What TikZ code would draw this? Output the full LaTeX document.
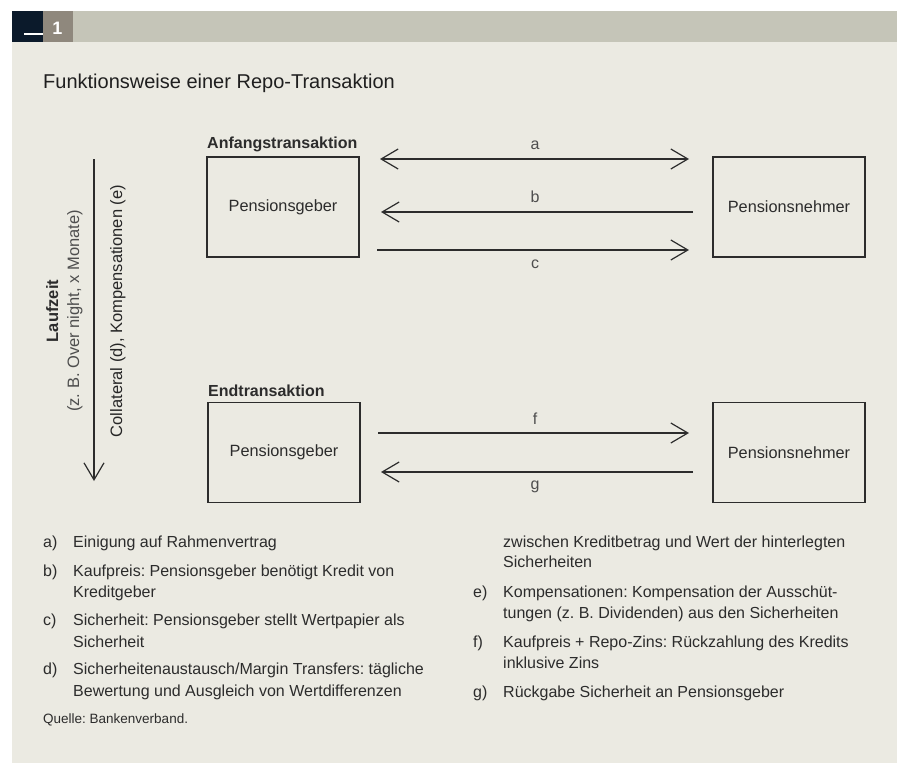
\documentclass[tikz,border=0pt]{standalone}
\usepackage{fontspec}
\setmainfont{Liberation Sans}
\usetikzlibrary{arrows.meta}
\definecolor{navy}{HTML}{0B1A2B}
\definecolor{hdrgrey}{HTML}{8F887D}
\definecolor{barcol}{HTML}{C5C5B8}
\definecolor{bgcol}{HTML}{EBEAE2}
\definecolor{ink}{HTML}{2C2C2C}
\definecolor{labink}{HTML}{4E4E4E}
\tikzset{barb/.tip={Straight Barb[length=17pt,width=20pt]}}
\frenchspacing
\begin{document}
\begin{tikzpicture}[x=1pt,y=-1pt,
  fn/.style={anchor=base west, inner sep=0pt, text=ink, font=\fontsize{16}{19}\selectfont},
  party/.style={draw=ink, line width=1.3pt, minimum width=152pt, minimum height=100pt,
    text=ink, font=\fontsize{16.3}{19}\selectfont, inner sep=0pt},
  phase/.style={anchor=base west, inner sep=0pt, text=ink, font=\fontsize{16}{19}\selectfont\bfseries},
  lab/.style={anchor=base, inner sep=0pt, text=labink, font=\fontsize{16}{19}\selectfont},
  arr/.style={draw=ink, line width=1.2pt},
  vtext/.style={anchor=base, rotate=90, inner sep=0pt, font=\fontsize{16.5}{19}\selectfont}]
\useasboundingbox (0,0) rectangle (897,763);
% background and header
\fill[bgcol] (12,42) rectangle (897,763);
\fill[barcol] (73,11) rectangle (897,42);
\fill[hdrgrey] (43,11) rectangle (73,42);
\fill[navy] (12,11) rectangle (43,42);
\fill[white] (24,32.5) rectangle (43,35);
\node[anchor=base, inner sep=0pt, text=white, font=\fontsize{18}{20}\selectfont\bfseries] (num) at (57.5,34) {1};
% title
\node[anchor=base west, inner sep=0pt, text=black!88, font=\fontsize{20}{24}\selectfont] (title) at (43,88) {Funktionsweise einer Repo-Transaktion};
% time axis
\coordinate (tTop) at (94,159);
\coordinate (tBot) at (94,481);
\draw[arr,-barb] (tTop) -- (tBot);
\node[vtext, text=ink, font=\fontsize{16.5}{19}\selectfont\bfseries] (lz) at (58,311) {Laufzeit};
\node[vtext, text=labink] (lz2) at (79,311) {(z. B. Over night, x Monate)};
\node[vtext, text=black!85] (coll) at (122,311) {Collateral (d), Kompensationen (e)};
% phase labels
\node[phase] (anf) at (207,148) {Anfangstransaktion};
\node[phase] (end) at (208,396) {Endtransaktion};
% boxes
\node[party] (g1) at (283,207) {Pensionsgeber};
\node[party] (n1) at (789,207) {Pensionsnehmer};
\node[party] (g2) at (284,452.5) {Pensionsgeber};
\node[party] (n2) at (789,452.5) {Pensionsnehmer};
% arrow endpoints
\coordinate (aL) at (380,159);  \coordinate (aR) at (689,159);
\coordinate (bL) at (381,212);  \coordinate (bR) at (693,212);
\coordinate (cL) at (377,250);  \coordinate (cR) at (689,250);
\coordinate (fL) at (378,433);  \coordinate (fR) at (689,433);
\coordinate (gL) at (381,472);  \coordinate (gR) at (693,472);
\draw[arr,barb-barb] (aL) -- (aR);
\draw[arr,-barb] (bR) -- (bL);
\draw[arr,-barb] (cL) -- (cR);
\draw[arr,-barb] (fL) -- (fR);
\draw[arr,-barb] (gR) -- (gL);
\node[lab] (la) at (535,149) {a};
\node[lab] (lb) at (535,202.5) {b};
\node[lab] (lc) at (535,268) {c};
\node[lab] (lf) at (535,424) {f};
\node[lab] (lg) at (535,489) {g};
% footnotes left
\node[fn] (na) at (43,547.3) {a)};
\node[fn] (ta) at (73,547.3) {Einigung auf Rahmenvertrag};
\node[fn] (nb) at (43,576.3) {b)};
\node[fn] (tb) at (73,576.3) {Kaufpreis: Pensionsgeber benötigt Kredit von};
\node[fn] (tb2) at (73,597.3) {Kreditgeber};
\node[fn] (nc) at (43,625.3) {c)};
\node[fn] (tc) at (73,625.3) {Sicherheit: Pensionsgeber stellt Wertpapier als};
\node[fn] (tc2) at (73,647) {Sicherheit};
\node[fn] (nd) at (43,674.3) {d)};
\node[fn] (td) at (73,674.3) {Sicherheitenaustausch/Margin Transfers: tägliche};
\node[fn] (td2) at (73,696.3) {Bewertung und Ausgleich von Wertdifferenzen};
% footnotes right
\node[fn] (td3) at (503,547) {zwischen Kreditbetrag und Wert der hinterlegten};
\node[fn] (td4) at (503,567.5) {Sicherheiten};
\node[fn] (ne) at (473,597) {e)};
\node[fn] (te) at (503,597) {Kompensationen: Kompensation der Ausschüt-};
\node[fn] (te2) at (503,618) {tungen (z. B. Dividenden) aus den Sicherheiten};
\node[fn] (nf) at (473,647) {f)};
\node[fn] (tf) at (503,647) {Kaufpreis + Repo-Zins: Rückzahlung des Kredits};
\node[fn] (tf2) at (503,668.5) {inklusive Zins};
\node[fn] (ng) at (473,697) {g)};
\node[fn] (tg) at (503,697) {Rückgabe Sicherheit an Pensionsgeber};
% source
\node[anchor=base west, inner sep=0pt, text=ink, font=\fontsize{13.5}{16}\selectfont] (src) at (43,723.5) {Quelle: Bankenverband.};
\end{tikzpicture}
\end{document}
